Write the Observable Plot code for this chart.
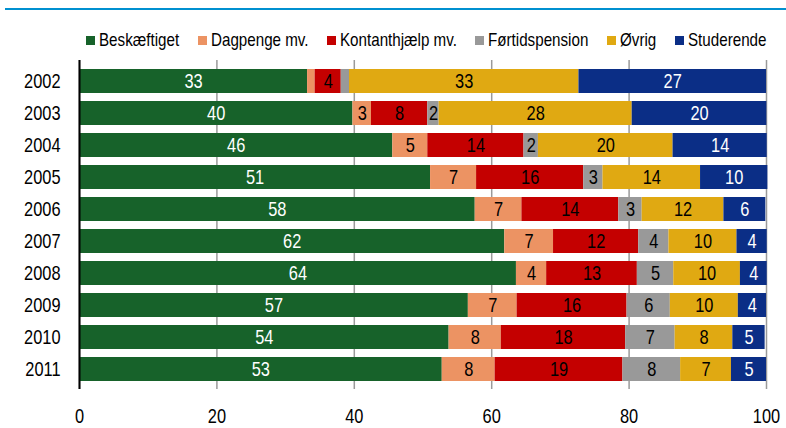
<!DOCTYPE html>
<html><head><meta charset="utf-8">
<script src="https://cdn.jsdelivr.net/npm/d3@7"></script>
<script src="https://cdn.jsdelivr.net/npm/@observablehq/plot@0.6"></script>
<style>
body{margin:0;background:#fff;}
#wrap{position:relative;width:786px;height:428px;font-family:"Liberation Sans",Arial,sans-serif;color:#000;}
#topline{position:absolute;left:5px;right:0;top:8px;height:2px;background:#0090D0;}
#legend{position:absolute;left:86px;top:30px;display:flex;gap:18.5px;font-size:18.5px;line-height:20px;white-space:nowrap;}
.item{display:flex;align-items:center;gap:4px;}
.sw{width:9px;height:9px;display:inline-block;}
.lt{display:inline-block;transform:scaleX(0.82);transform-origin:0 50%;}
#chart{position:absolute;left:0;top:50px;}
</style>
</head><body>
<div id="wrap"><div id="topline"></div><div id="legend"></div><div id="chart"></div></div>
<script>
const years = ["2002","2003","2004","2005","2006","2007","2008","2009","2010","2011"];
const series = ["Beskæftiget","Dagpenge mv.","Kontanthjælp mv.","Førtidspension","Øvrig","Studerende"];
const colors = ["#17622A","#EC9363","#C40000","#999999","#E0A912","#0B2E86"];
const labelColors = ["white","black","black","black","black","white"];
const beskaeftiget = [33.2,39.8,45.6,51.1,57.6,61.9,63.6,56.6,53.8,52.8];
const dagpenge = [1.1,2.7,5.1,6.7,6.8,7.1,4.4,7.1,7.6,7.7];
const kontanthjaelp = [3.8,8.2,14.0,15.6,14.1,12.4,13.2,16.0,18.1,18.6];
const foertidspension = [1.2,1.65,2.1,2.8,3.4,4.4,5.3,6.3,7.2,8.4];
const oevrig = [33.4,28.1,19.6,14.2,11.9,9.9,9.7,9.9,8.4,7.4];
const studerende = [27.3,19.6,13.7,9.8,6.1,4.4,3.9,4.1,4.7,5.1];
const xTicks = [0,20,40,60,80,100];

const NARROW = 0.82;
const valuesBySeries = [beskaeftiget,dagpenge,kontanthjaelp,foertidspension,oevrig,studerende];
const table = [];
years.forEach((yr, i) => {
  let acc = 0;
  series.forEach((s, j) => {
    const v = valuesBySeries[j][i];
    table.push({year: yr, series: s, value: v, x1: acc, x2: acc + v, mid: acc + v / 2, labelColor: labelColors[j]});
    acc += v;
  });
});

const legend = document.getElementById("legend");
series.forEach((s, j) => {
  const it = document.createElement("div");
  it.className = "item";
  it.innerHTML = `<span class="sw" style="background:${colors[j]}"></span><span class="lt">${s}</span>`;
  legend.appendChild(it);
});
legend.querySelectorAll(".lt").forEach(sp => {
  sp.style.marginRight = (-(1 - NARROW) * sp.offsetWidth) + "px";
});

const fontFam = '"Liberation Sans",Arial,sans-serif';
const chart = Plot.plot({
  width: 786,
  height: 378,
  marginTop: 10,
  marginBottom: 39,
  marginLeft: 79,
  marginRight: 20,
  style: {fontSize: "20px", fontFamily: fontFam, color: "#000", background: "transparent"},
  x: {domain: [0, 100], ticks: xTicks, tickSize: 0, tickPadding: 19, label: null},
  y: {domain: years, paddingInner: 0.26, paddingOuter: 0.13, tickSize: 0, tickPadding: 19, label: null},
  color: {domain: series, range: colors},
  marks: [
    Plot.gridX(xTicks, {stroke: "#9a9a9a", strokeOpacity: 1, strokeWidth: 1.5}),
    Plot.barX(table, {y: "year", x1: "x1", x2: "x2", fill: "series"}),
    Plot.text(table.filter(d => d.value >= 1.5 && d.labelColor === "white"), {y: "year", x: "mid", text: d => String(Math.round(d.value)), fill: "white", fontSize: 20}),
    Plot.text(table.filter(d => d.value >= 1.5 && d.labelColor === "black"), {y: "year", x: "mid", text: d => String(Math.round(d.value)), fill: "black", fontSize: 20}),
    Plot.ruleX([0], {stroke: "black", strokeWidth: 2})
  ]
});
// condense all texts horizontally around their anchor (Arial Narrow look)
chart.querySelectorAll("text").forEach(t => {
  const x = parseFloat(t.getAttribute("x")) || 0;
  const y = parseFloat(t.getAttribute("y")) || 0;
  const prev = t.getAttribute("transform") || "";
  t.setAttribute("transform", `${prev} translate(${x} ${y}) scale(${NARROW} 1) translate(${-x} ${-y})`.trim());
});
document.getElementById("chart").appendChild(chart);
</script>
</body></html>
